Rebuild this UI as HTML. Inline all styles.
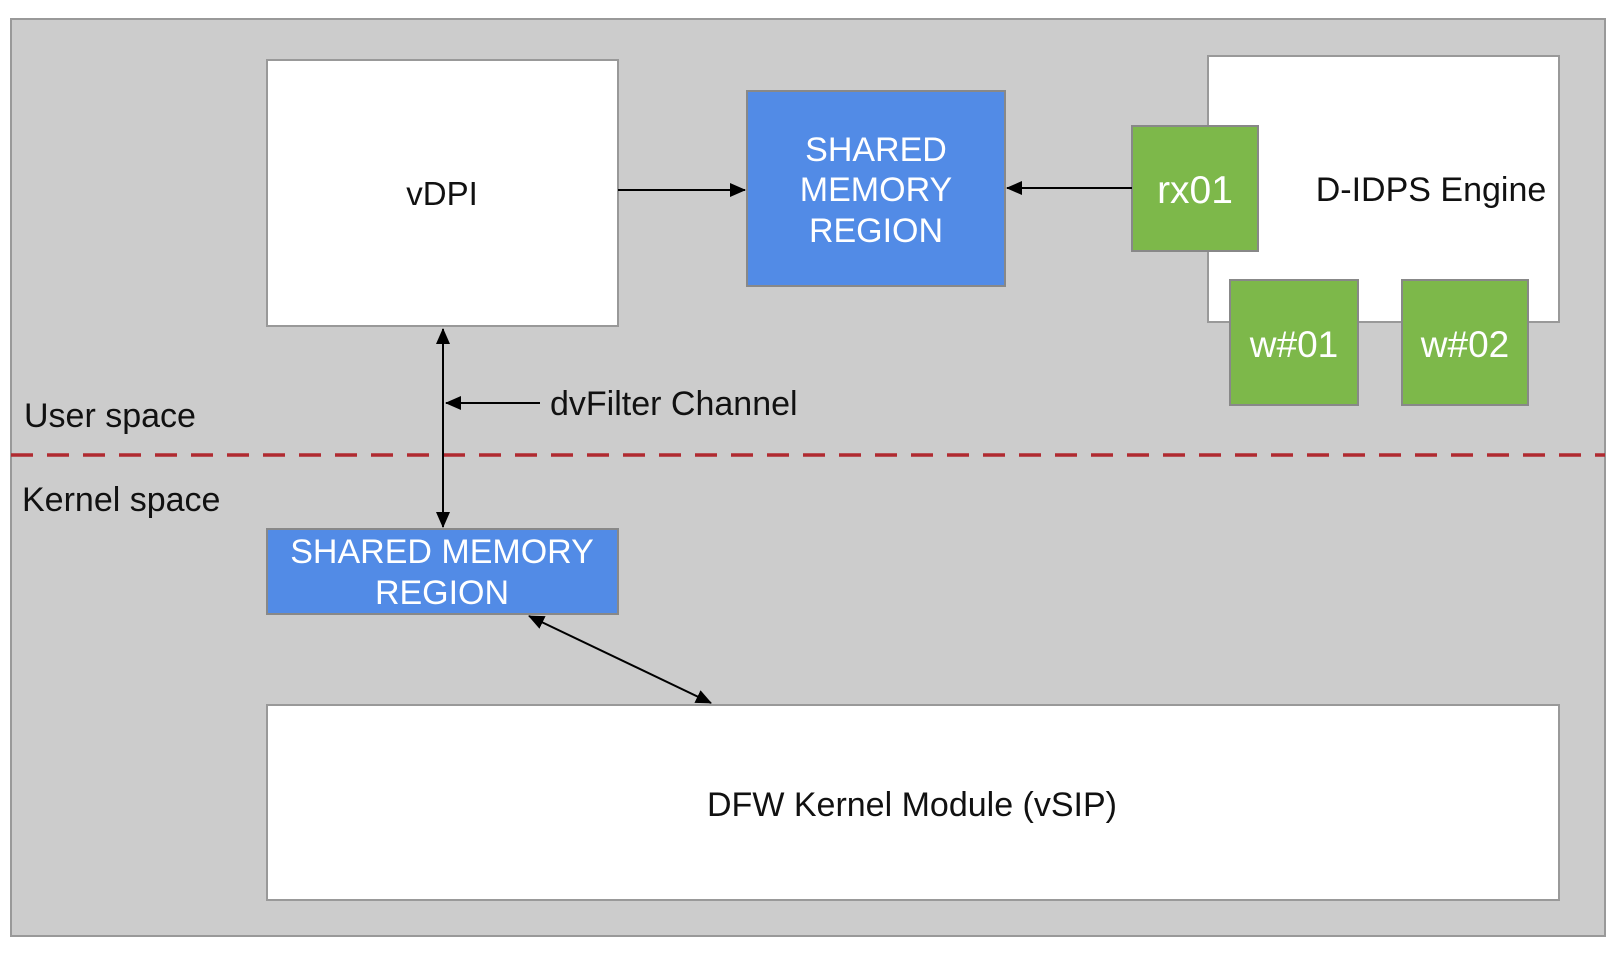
<!DOCTYPE html>
<html><head><meta charset="utf-8"><style>
html,body{margin:0;padding:0;background:#fff;}
body{width:1622px;height:954px;position:relative;overflow:hidden;font-family:"Liberation Sans",Arial,sans-serif;}
</style></head><body>
<svg width="1622" height="954" viewBox="0 0 1622 954" xmlns="http://www.w3.org/2000/svg" font-family="Liberation Sans, Arial, sans-serif">
<defs>
<marker id="a" markerWidth="16" markerHeight="14" refX="15" refY="7" orient="auto" markerUnits="userSpaceOnUse" viewBox="0 0 16 14">
<path d="M0,0 L16,7 L0,14 z" fill="#000"/></marker>
<marker id="as" markerWidth="16" markerHeight="14" refX="1" refY="7" orient="auto" markerUnits="userSpaceOnUse" viewBox="0 0 16 14">
<path d="M16,0 L0,7 L16,14 z" fill="#000"/></marker>
</defs>
<rect x="11" y="19" width="1594" height="917" fill="#cccccc" stroke="#999" stroke-width="2"/>
<rect x="267" y="60" width="351" height="266" fill="#fff" stroke="#999" stroke-width="2"/>
<text x="442" y="205" font-size="33" text-anchor="middle" fill="#111">vDPI</text>
<rect x="747" y="91" width="258" height="195" fill="#528be6" stroke="#888" stroke-width="2"/>
<g font-size="34" fill="#fff" text-anchor="middle">
<text x="876" y="161">SHARED</text><text x="876" y="201">MEMORY</text><text x="876" y="242">REGION</text></g>
<rect x="1208" y="56" width="351" height="266" fill="#fff" stroke="#999" stroke-width="2"/>
<text x="1431" y="201" font-size="34" text-anchor="middle" fill="#111">D-IDPS Engine</text>
<rect x="1132" y="126" width="126" height="125" fill="#7db84a" stroke="#888" stroke-width="2"/>
<text x="1195" y="203" font-size="39" text-anchor="middle" fill="#fff">rx01</text>
<rect x="1230" y="280" width="128" height="125" fill="#7db84a" stroke="#888" stroke-width="2"/>
<text x="1294" y="357" font-size="37" text-anchor="middle" fill="#fff">w#01</text>
<rect x="1402" y="280" width="126" height="125" fill="#7db84a" stroke="#888" stroke-width="2"/>
<text x="1465" y="357" font-size="37" text-anchor="middle" fill="#fff">w#02</text>
<line x1="11" y1="455" x2="1605" y2="455" stroke="#b02a30" stroke-width="3.5" stroke-dasharray="22,14"/>
<text x="24" y="427" font-size="34" fill="#111">User space</text>
<text x="22" y="511" font-size="34" fill="#111">Kernel space</text>
<rect x="267" y="529" width="351" height="85" fill="#528be6" stroke="#888" stroke-width="2"/>
<g font-size="34" fill="#fff" text-anchor="middle">
<text x="442" y="563">SHARED MEMORY</text><text x="442" y="604">REGION</text></g>
<rect x="267" y="705" width="1292" height="195" fill="#fff" stroke="#999" stroke-width="2"/>
<text x="912" y="816" font-size="34" text-anchor="middle" fill="#111">DFW Kernel Module (vSIP)</text>
<g stroke="#000" stroke-width="2" fill="none">
<line x1="443" y1="329" x2="443" y2="527" marker-start="url(#as)" marker-end="url(#a)"/>
<line x1="540" y1="403" x2="446" y2="403" marker-end="url(#a)"/>
<line x1="618" y1="190" x2="745" y2="190" marker-end="url(#a)"/>
<line x1="1132" y1="188" x2="1007" y2="188" marker-end="url(#a)"/>
<line x1="529" y1="616" x2="711" y2="703" marker-start="url(#as)" marker-end="url(#a)"/>
</g>
<text x="550" y="415" font-size="34" fill="#111">dvFilter Channel</text>
</svg>
</body></html>
